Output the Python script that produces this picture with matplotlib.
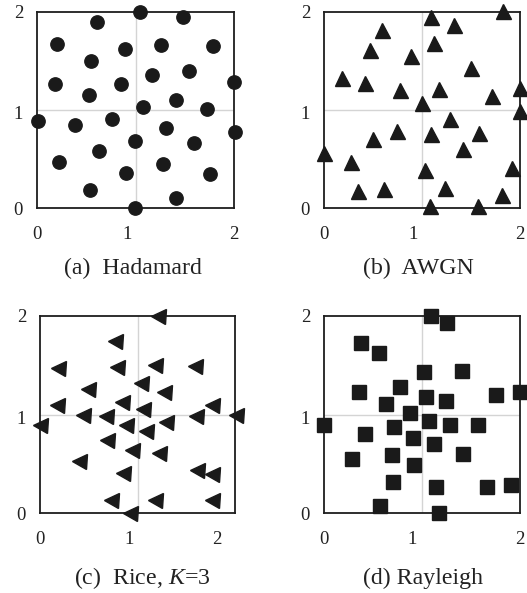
import matplotlib
matplotlib.use("Agg")
import matplotlib.pyplot as plt

plt.rcParams['font.family'] = ['Liberation Serif', 'DejaVu Serif']
plt.rcParams['mathtext.fontset'] = 'custom'
plt.rcParams['mathtext.rm'] = 'Liberation Serif'
plt.rcParams['mathtext.it'] = 'Liberation Serif:italic'

# ---- data ----
had_x = [1.046, 1.482, 0.606, 0.200, 0.893, 1.255, 1.790, 0.548, 1.546, 1.171, 0.183, 0.849,
         2.003, 0.531, 1.408, 1.073, 1.729, 0.014, 0.386, 0.758, 1.306, 2.010, 0.998, 1.597,
         0.629, 0.227, 1.279, 0.900, 1.760, 0.541, 1.415, 0.995]
had_y = [2.000, 1.946, 1.902, 1.674, 1.620, 1.664, 1.657, 1.501, 1.402, 1.355, 1.263, 1.270,
         1.290, 1.154, 1.107, 1.032, 1.012, 0.886, 0.849, 0.910, 0.812, 0.771, 0.679, 0.662,
         0.577, 0.472, 0.445, 0.357, 0.343, 0.180, 0.102, 0.000]

awgn_x = [1.095, 1.824, 1.329, 0.593, 1.119, 0.468, 0.888, 1.502, 0.186, 0.417, 0.773, 1.176,
          2.000, 1.719, 0.997, 2.000, 1.281, 0.746, 1.092, 1.583, 0.502, 1.417, 0.000, 0.271,
          1.034, 1.915, 1.231, 0.610, 0.349, 1.817, 1.078, 1.569]
awgn_y = [1.952, 2.014, 1.868, 1.817, 1.688, 1.613, 1.555, 1.426, 1.331, 1.280, 1.199, 1.212,
          1.222, 1.138, 1.070, 0.985, 0.910, 0.781, 0.754, 0.764, 0.703, 0.604, 0.560, 0.469,
          0.384, 0.407, 0.204, 0.194, 0.170, 0.136, 0.017, 0.017]

rice_x = [1.328, 0.846, 0.207, 0.865, 1.297, 1.749, 0.538, 1.139, 1.403, 0.921, 0.188, 1.944,
          1.158, 0.489, 0.745, 1.760, 2.208, 0.000, 0.970, 1.196, 1.422, 0.752, 1.034, 1.346,
          0.444, 0.940, 1.768, 1.944, 0.801, 1.297, 1.937, 1.015]
rice_y = [2.000, 1.747, 1.474, 1.484, 1.501, 1.491, 1.258, 1.315, 1.231, 1.130, 1.096, 1.096,
          1.052, 0.995, 0.985, 0.985, 0.995, 0.894, 0.894, 0.833, 0.921, 0.742, 0.641, 0.607,
          0.523, 0.411, 0.438, 0.398, 0.135, 0.135, 0.135, 0.000]

ray_x = [1.095, 1.254, 0.380, 0.559, 1.017, 1.407, 0.359, 0.773, 1.041, 1.244, 1.753, 2.000,
         0.634, 0.881, 0.000, 0.712, 1.068, 1.281, 1.569, 0.417, 0.905, 1.119, 0.288, 0.695,
         0.915, 1.417, 0.705, 1.142, 1.661, 1.905, 0.576, 1.169]
ray_y = [2.000, 1.929, 1.727, 1.626, 1.427, 1.440, 1.231, 1.282, 1.180, 1.140, 1.197, 1.231,
         1.106, 1.019, 0.894, 0.877, 0.934, 0.894, 0.894, 0.803, 0.766, 0.702, 0.550, 0.590,
         0.489, 0.597, 0.310, 0.260, 0.263, 0.287, 0.074, 0.000]

tick_labels = ['0', '1', '2']
captions = ['(a)  Hadamard', '(b)  AWGN', '(c)  Rice, $K$=3', '(d) Rayleigh']

W, H = 527, 593
fig = plt.figure(figsize=(W / 100, H / 100), dpi=100)

def box(l, t, r, b):
    return [l / W, 1 - b / H, (r - l) / W, (b - t) / H]

panels = [
    dict(rect=box(37, 12, 234, 208), x=had_x, y=had_y, m='o', ms=9.6, xmax=2.0,
         xt=[0, 0.91, 2], cap=(133, 268)),
    dict(rect=box(324, 12, 520, 208), x=awgn_x, y=awgn_y, m='^', ms=10.8, xmax=2.0,
         xt=[0, 0.905, 2], cap=(418, 268)),
    dict(rect=box(40, 316, 235, 513), x=rice_x, y=rice_y, m='<', ms=10.8, xmax=2.2,
         xt=[0, 1, 2], cap=(142, 578)),
    dict(rect=box(324, 316, 520, 513), x=ray_x, y=ray_y, m='s', ms=9.8, xmax=2.0,
         xt=[0, 0.9, 2], cap=(423, 578)),
]

for p, cap in zip(panels, captions):
    ax = fig.add_axes(p['rect'])
    ax.set_xlim(0, p['xmax'])
    ax.set_ylim(0, 2)
    ax.axvline(p['xmax'] / 2, color='#d4d4d4', lw=1.0, zorder=0)
    ax.axhline(1.0, color='#d4d4d4', lw=1.0, zorder=0)
    ax.plot(p['x'], p['y'], linestyle='none', marker=p['m'], ms=p['ms'],
            color='#1a1a1a', mec='#1a1a1a', clip_on=False, zorder=3)
    ax.set_xticks(p['xt'])
    ax.set_xticklabels(tick_labels)
    ax.set_yticks([0, 0.97, 2])
    ax.set_yticklabels(tick_labels)
    ax.tick_params(axis='both', length=0, labelsize=13.5, colors='#222222')
    ax.tick_params(axis='x', pad=13)
    ax.tick_params(axis='y', pad=10)
    for s in ax.spines.values():
        s.set_linewidth(1.3)
        s.set_color('#1e1e1e')
    fig.text(p['cap'][0] / W, 1 - p['cap'][1] / H, cap, ha='center', va='center',
             fontsize=17.2, color='#222222')

fig.savefig('out.png', dpi=100)
